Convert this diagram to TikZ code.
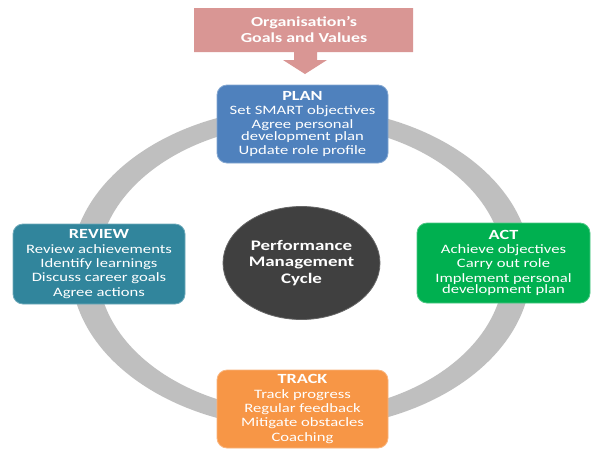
\documentclass[tikz,border=0pt]{standalone}
\usepackage{fontspec}
\setmainfont{Carlito}[FakeStretch=1.3]
\usetikzlibrary{shapes.geometric}
\definecolor{pinkA}{RGB}{217,150,148}
\definecolor{planC}{RGB}{79,129,189}
\definecolor{reviewC}{RGB}{49,133,156}
\definecolor{actC}{RGB}{0,176,80}
\definecolor{trackC}{RGB}{247,150,70}
\definecolor{centerC}{RGB}{64,64,64}
\definecolor{ringC}{RGB}{191,191,191}
\tikzset{
  stagebox/.style={rectangle, rounded corners=10pt, text=white, align=center,
    inner sep=2pt, font=\fontsize{12.8}{14.3}\selectfont, line width=0.8pt}
}
\newcommand{\wrapgap}{\\[-2.6pt]}
\newcommand{\ttlfont}{\bfseries\fontsize{14}{14.3}\selectfont}
\begin{document}
\begin{tikzpicture}[x=1pt,y=-1pt]
\useasboundingbox (0,0) rectangle (600,456);
\fill[white] (0,0) rectangle (600,456);
% ring
\fill[ringC, even odd rule] (301,268) ellipse [x radius=230pt, y radius=161pt]
  (301,268) ellipse [x radius=203pt, y radius=144pt];
% top arrow
\fill[pinkA] (194,8) -- (413,8) -- (413,52) -- (317,52) -- (317,60) -- (327,60)
  -- (305,74) -- (283,60) -- (294,60) -- (294,52) -- (194,52) -- cycle;
\node[text=white, align=center, font=\bfseries\fontsize{13.8}{16}\selectfont] (org) at (304,30)
  {Organisation’s\\Goals and Values};
% center
\node[ellipse, fill=centerC, draw=centerC!80!white, line width=0.8pt,
  minimum width=157pt, minimum height=113pt, inner sep=0pt,
  text=white, align=center, font=\bfseries\fontsize{14.6}{16.5}\selectfont] (pmc) at (301.5,263)
  {Performance\\Management\\Cycle};
% boxes
\node[stagebox, fill=planC, draw=planC!70!white, minimum width=171pt, minimum height=78pt] (plan) at (302.5,124)
  {{\ttlfont PLAN}\\Set SMART objectives\\Agree personal\wrapgap development plan\\Update role profile};
\node[stagebox, fill=reviewC, draw=reviewC!70!white, minimum width=172pt, minimum height=80pt] (review) at (99,264)
  {{\ttlfont REVIEW}\\Review achievements\\Identify learnings\\Discuss career goals\\Agree actions};
\node[stagebox, fill=actC, draw=actC!70!white, minimum width=173pt, minimum height=80pt] (act) at (503.5,263)
  {{\ttlfont ACT}\\Achieve objectives\\Carry out role\\Implement personal\wrapgap development plan};
\node[stagebox, fill=trackC, draw=trackC!70!white, minimum width=171pt, minimum height=78pt] (track) at (302.5,409)
  {{\ttlfont TRACK}\\Track progress\\Regular feedback\\Mitigate obstacles\\Coaching};
\end{tikzpicture}
\end{document}
